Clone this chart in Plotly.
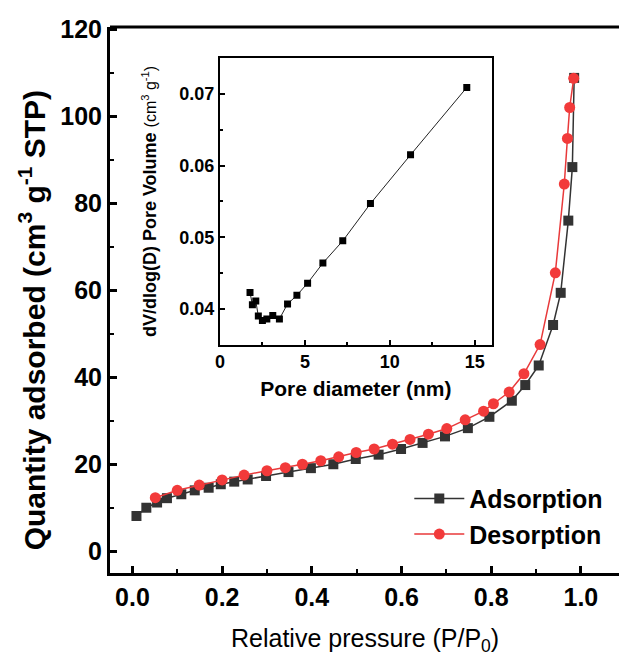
import plotly.graph_objects as go

# Main isotherm data
ads_x = [0.009, 0.031, 0.055, 0.077, 0.109, 0.139, 0.170, 0.197, 0.227, 0.257, 0.298, 0.348,
         0.398, 0.448, 0.498, 0.549, 0.599, 0.647, 0.697, 0.748, 0.796, 0.846, 0.876, 0.906,
         0.938, 0.955, 0.972, 0.981, 0.985]
ads_y = [8.1, 10.0, 11.2, 12.2, 13.1, 14.0, 14.6, 15.4, 16.0, 16.5, 17.3, 18.2,
         19.1, 20.0, 21.2, 22.2, 23.5, 24.9, 26.4, 28.3, 30.9, 34.6, 38.2, 42.7,
         52.0, 59.4, 76.0, 88.3, 108.8]

des_x = [0.984, 0.975, 0.970, 0.963, 0.943, 0.909, 0.873, 0.840, 0.805, 0.783, 0.742, 0.701,
         0.660, 0.619, 0.580, 0.539, 0.499, 0.460, 0.420, 0.379, 0.341, 0.300, 0.249, 0.200,
         0.149, 0.100, 0.051]
des_y = [108.7, 102.0, 94.9, 84.4, 64.0, 47.5, 40.8, 36.6, 33.9, 32.2, 30.2, 28.2,
         26.9, 25.7, 24.6, 23.5, 22.7, 21.7, 20.8, 20.0, 19.2, 18.5, 17.5, 16.4,
         15.2, 14.0, 12.3]

# Inset pore size distribution
pore_d = [1.77, 1.91, 2.11, 2.26, 2.50, 2.76, 3.11, 3.50, 3.98, 4.53, 5.16, 6.06, 7.23, 8.86, 11.22, 14.53]
pore_v = [0.0423, 0.0406, 0.0411, 0.0390, 0.0384, 0.0386, 0.0391, 0.0386, 0.0407, 0.0419,
          0.0436, 0.0464, 0.0495, 0.0547, 0.0615, 0.0709]

main_xticks = [0.0, 0.2, 0.4, 0.6, 0.8, 1.0]
main_yticks = [0, 20, 40, 60, 80, 100, 120]
inset_xticks = [0, 5, 10, 15]
inset_yticks = [0.04, 0.05, 0.06, 0.07]

x_title = "Relative pressure (P/P<sub>0</sub>)"
y_title = "Quantity adsorbed (cm<sup>3</sup> g<sup>-1</sup> STP)"
inset_x_title = "Pore diameter (nm)"
inset_y_title = ("dV/dlog(D) Pore Volume "
                 "<span style='font-weight:normal;font-size:16px'>(cm<sup>3</sup> g<sup>-1</sup>)</span>")

FONT = "Liberation Sans, Arial, sans-serif"

fig = go.Figure()
fig.add_trace(go.Scatter(x=ads_x, y=ads_y, mode="lines+markers", name="Adsorption",
                         line=dict(color="#333333", width=1.5),
                         marker=dict(symbol="square", size=10, color="#333333")))
fig.add_trace(go.Scatter(x=des_x, y=des_y, mode="lines+markers", name="Desorption",
                         line=dict(color="#e8393a", width=1.5),
                         marker=dict(symbol="circle", size=11, color="#f23a3a")))
fig.add_trace(go.Scatter(x=pore_d, y=pore_v, mode="lines+markers", showlegend=False,
                         xaxis="x2", yaxis="y2",
                         line=dict(color="#222222", width=1),
                         marker=dict(symbol="square", size=7, color="black")))

axis_common = dict(showgrid=False, zeroline=False, linecolor="black", ticks="inside",
                   tickcolor="black", automargin=False)

fig.update_layout(
    width=619, height=656,
    margin=dict(l=110, r=0, t=27, b=83),
    paper_bgcolor="white", plot_bgcolor="white",
    font=dict(family=FONT, color="black"),
    xaxis=dict(**axis_common, range=[-0.05, 1.085], tickvals=main_xticks,
               ticktext=[f"{v:.1f}" for v in main_xticks],
               linewidth=3, tickwidth=2.5, ticklen=7,
               minor=dict(ticks="inside", ticklen=4, tickwidth=2, dtick=0.1, tick0=0, tickcolor="black"),
               tickfont=dict(size=25, family=FONT, weight="bold"),
               mirror=False),
    yaxis=dict(**axis_common, range=[-5, 120.5], tickvals=main_yticks,
               linewidth=3, tickwidth=2.5, ticklen=7,
               minor=dict(ticks="inside", ticklen=4, tickwidth=2, dtick=10, tick0=0, tickcolor="black"),
               tickfont=dict(size=25, family=FONT, weight="bold")),
    xaxis2=dict(**axis_common, domain=[0.216, 0.750], anchor="y2", range=[0, 16],
                tickvals=inset_xticks, linewidth=2, tickwidth=1.5, ticklen=5, mirror=True,
                minor=dict(ticks="inside", ticklen=3, dtick=2.5, tick0=0, tickcolor="black"),
                tickfont=dict(size=18, family=FONT, weight="bold"),
                title=dict(text=inset_x_title, font=dict(size=21, family=FONT, weight="bold"),
                           standoff=10)),
    yaxis2=dict(**axis_common, domain=[0.418, 0.943], anchor="x2", range=[0.035, 0.075],
                tickvals=inset_yticks, ticktext=[f"{v:.2f}" for v in inset_yticks],
                linewidth=2, tickwidth=1.5, ticklen=5, mirror=True,
                minor=dict(ticks="inside", ticklen=3, dtick=0.005, tick0=0.035, tickcolor="black"),
                tickfont=dict(size=18, family=FONT, weight="bold"),
                title=dict(text=inset_y_title, font=dict(size=18, family=FONT, weight="bold"),
                           standoff=18)),
    legend=dict(x=0.588, y=0.178, xanchor="left", yanchor="top", bgcolor="rgba(0,0,0,0)",
                font=dict(size=25, family=FONT, weight="bold"), itemwidth=50,
                tracegroupgap=2),
    showlegend=True,
)

# main axis titles as annotations for exact placement
fig.add_annotation(text=y_title, xref="paper", yref="paper", x=-0.153, y=0.463,
                   xanchor="center", yanchor="middle", textangle=-90, showarrow=False,
                   font=dict(size=30, family=FONT, weight="bold"))
fig.add_annotation(text=x_title, xref="paper", yref="paper", x=0.5, y=-0.156,
                   xanchor="center", yanchor="bottom", showarrow=False,
                   font=dict(size=25, family=FONT))

# top border of main plot
fig.add_shape(type="line", xref="paper", yref="paper", x0=0, x1=1, y0=1, y1=1,
              line=dict(color="black", width=3))

fig.write_html("out.html", config={"displayModeBar": False},
               post_script="document.body.style.margin='0px';")
